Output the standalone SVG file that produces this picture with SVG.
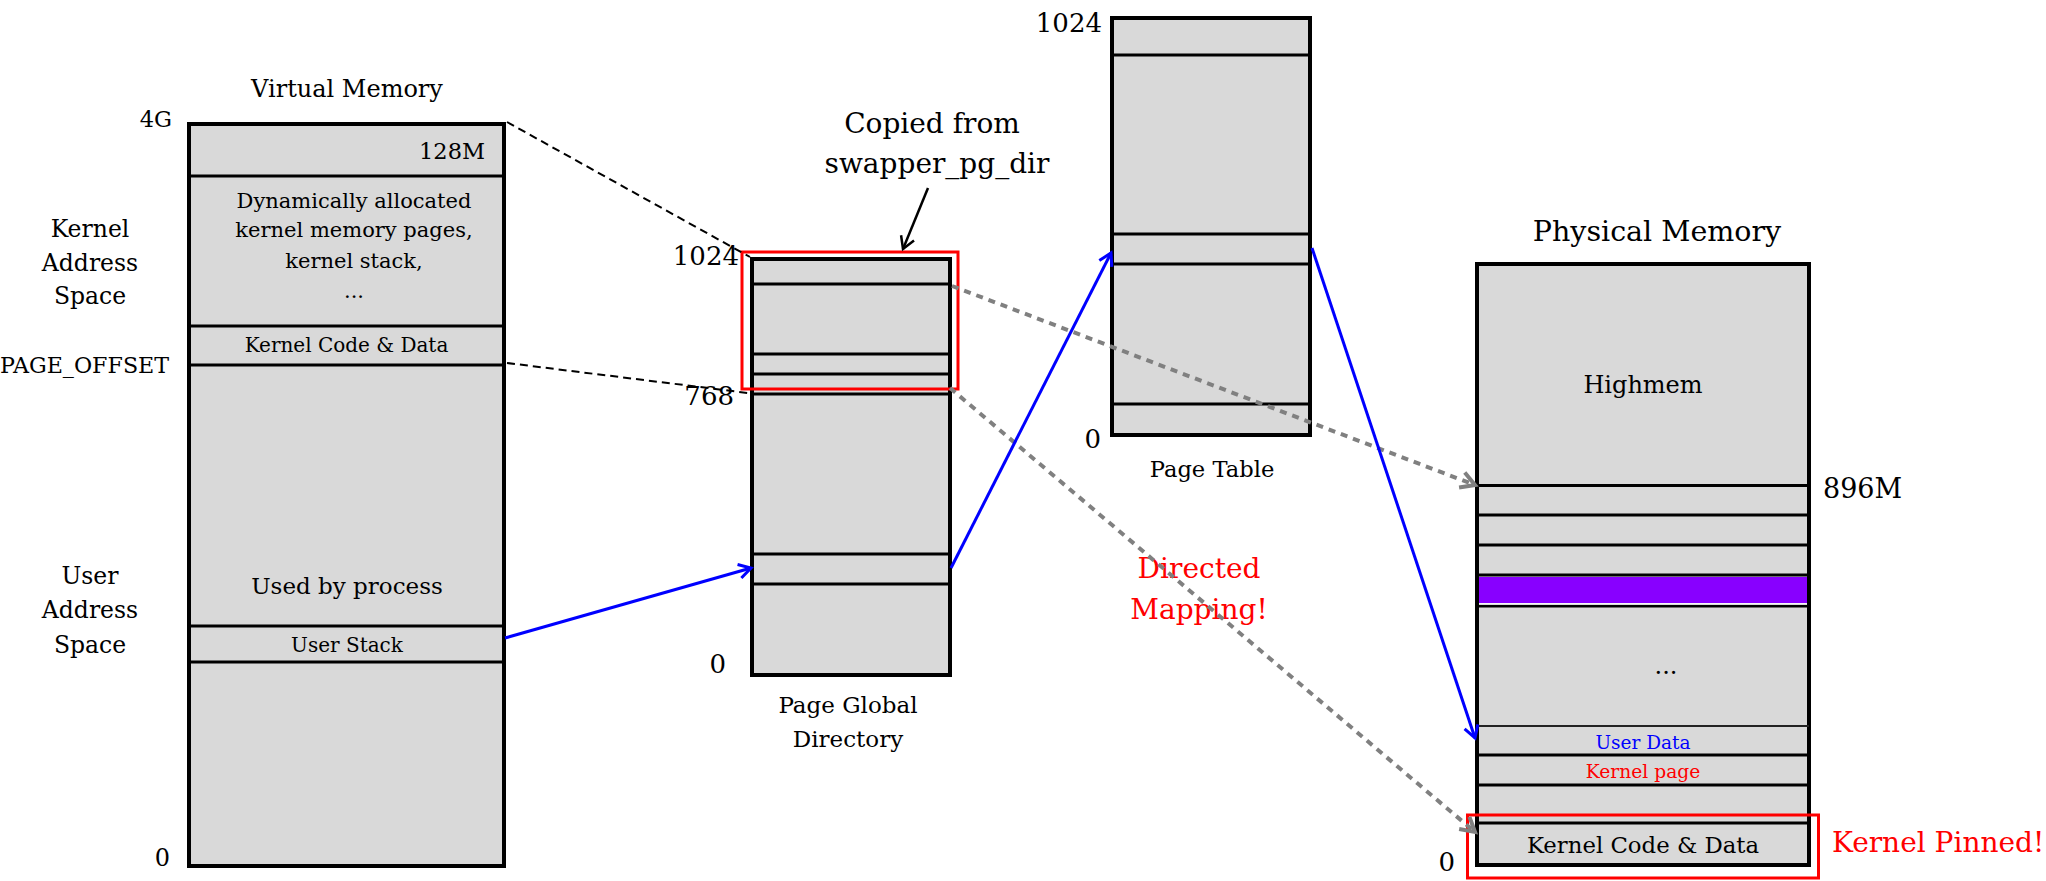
<svg xmlns="http://www.w3.org/2000/svg" width="2046" height="881" viewBox="0 0 2046 881">
<style>
text{font-family:"DejaVu Serif","Liberation Serif",serif;fill:#000}
.box{fill:#d9d9d9;stroke:#000;stroke-width:4}
.row{stroke:#000;stroke-width:3;fill:none}
.c{text-anchor:middle}
.e{text-anchor:end}
.red{fill:#ff0000}
.blue{fill:#0000ff}
.hl{fill:none;stroke:#ff0000;stroke-width:3}
.bd{fill:none;stroke:#000;stroke-width:2;stroke-dasharray:8 5}
.gd{fill:none;stroke:#808080;stroke-width:4;stroke-dasharray:7 6}
.bl{fill:none;stroke:#0000ff;stroke-width:3}
</style>
<defs>
<marker id="mb" markerUnits="userSpaceOnUse" orient="auto" overflow="visible" markerWidth="1" markerHeight="1"><path d="M-12,-7 L0,0 L-12,7" fill="none" stroke="#0000ff" stroke-width="3"/></marker>
<marker id="mg" markerUnits="userSpaceOnUse" orient="auto" overflow="visible" markerWidth="1" markerHeight="1"><path d="M-14,-8 L0,0 L-14,8" fill="none" stroke="#808080" stroke-width="4"/></marker>
<marker id="mk" markerUnits="userSpaceOnUse" orient="auto" overflow="visible" markerWidth="1" markerHeight="1"><path d="M-12,-7 L0,0 L-12,7" fill="none" stroke="#000" stroke-width="2.5"/></marker>
</defs>

<g id="virtual-memory">
<text x="347" y="97" class="c" font-size="24">Virtual Memory</text>
<rect class="box" x="189" y="124" width="315" height="742"/>
<path class="row" d="M189,176H504M189,326H504M189,365H504M189,626H504M189,662H504"/>
<text x="485" y="159" class="e" font-size="22.5">128M</text>
<text class="c" font-size="21"><tspan x="354" y="208">Dynamically allocated</tspan><tspan x="354" y="237">kernel memory pages,</tspan><tspan x="354" y="268">kernel stack,</tspan><tspan x="354" y="298">...</tspan></text>
<text x="346.5" y="352" class="c" font-size="20">Kernel Code &amp; Data</text>
<text x="347" y="594" class="c" font-size="23">Used by process</text>
<text x="347" y="652" class="c" font-size="20">User Stack</text>
<text x="172" y="127" class="e" font-size="22.5">4G</text>
<text x="170" y="866" class="e" font-size="24">0</text>
<text class="c" font-size="23.5"><tspan x="90" y="237">Kernel</tspan><tspan x="90" y="271">Address</tspan><tspan x="90" y="304">Space</tspan></text>
<text x="0" y="373" font-size="22.2">PAGE_OFFSET</text>
<text class="c" font-size="23.5"><tspan x="90" y="584">User</tspan><tspan x="90" y="618">Address</tspan><tspan x="90" y="653">Space</tspan></text>
</g>

<g id="page-global-directory">
<rect class="box" x="752" y="259" width="198" height="416"/>
<path class="row" d="M752,284H950M752,354H950M752,374H950M752,394H950M752,554H950M752,584H950"/>
<rect class="hl" x="742" y="252" width="216" height="137"/>
<text x="739" y="265" class="e" font-size="26">1024</text>
<text x="734" y="405" class="e" font-size="26">768</text>
<text x="726" y="673" class="e" font-size="26">0</text>
<text class="c" font-size="23"><tspan x="848" y="713">Page Global</tspan><tspan x="848" y="747">Directory</tspan></text>
<text class="c" font-size="28"><tspan x="932" y="133">Copied from</tspan><tspan x="937" y="173">swapper_pg_dir</tspan></text>
</g>

<g id="page-table">
<rect class="box" x="1112" y="18" width="198" height="417"/>
<path class="row" d="M1112,55H1310M1112,234H1310M1112,264H1310M1112,404H1310"/>
<text x="1102" y="32" class="e" font-size="26">1024</text>
<text x="1101" y="448" class="e" font-size="26">0</text>
<text x="1212" y="477" class="c" font-size="22.6">Page Table</text>
</g>

<g id="physical-memory">
<text x="1657" y="241" class="c" font-size="28.5">Physical Memory</text>
<rect class="box" x="1477" y="264" width="332" height="601"/>
<path class="row" d="M1477,485.5H1809M1477,515H1809M1477,545H1809M1477,575H1809M1477,606H1809M1477,755H1809M1477,785H1809M1477,823H1809"/>
<path d="M1477,726H1809" stroke="#222" stroke-width="2"/>
<rect x="1479" y="577" width="328" height="26" fill="#8800ff"/>
<path d="M1479,604H1807" stroke="#fff" stroke-width="1.5"/>
<text x="1643" y="393" class="c" font-size="24">Highmem</text>
<text x="1823" y="498" font-size="27">896M</text>
<text x="1666" y="674" class="c" font-size="24">...</text>
<text x="1643" y="749" class="c blue" font-size="18.5">User Data</text>
<text x="1643" y="778" class="c red" font-size="18.7">Kernel page</text>
<text x="1643" y="853" class="c" font-size="22.8">Kernel Code &amp; Data</text>
<text x="1455" y="871" class="e" font-size="26">0</text>
<rect class="hl" x="1467.5" y="815" width="351" height="63"/>
<text x="1832" y="852" class="red" font-size="28">Kernel Pinned!</text>
</g>

<g id="directed-mapping-label">
<text class="c red" font-size="28"><tspan x="1199" y="578">Directed</tspan><tspan x="1199" y="619">Mapping!</tspan></text>
</g>

<g id="connectors">
<path class="bd" d="M507,122L750,257"/>
<path class="bd" d="M507,363L748,393"/>
<path class="gd" d="M952,286L1475,485" marker-end="url(#mg)"/>
<path class="gd" d="M950,388L1475,832" marker-end="url(#mg)"/>
<path class="bl" d="M505,638L751,568" marker-end="url(#mb)"/>
<path class="bl" d="M951,568L1111,253" marker-end="url(#mb)"/>
<path class="bl" d="M1312,248L1475,738" marker-end="url(#mb)"/>
<path d="M928,188L903,249" fill="none" stroke="#000" stroke-width="2.5" marker-end="url(#mk)"/>
</g>
</svg>
